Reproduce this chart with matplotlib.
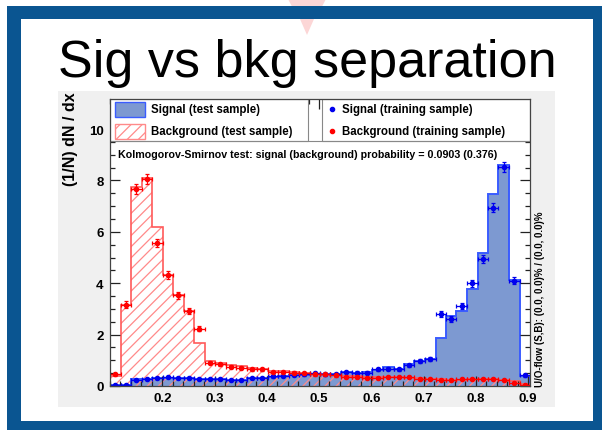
import numpy as np
import matplotlib
matplotlib.use("Agg")
import matplotlib.pyplot as plt
from matplotlib.patches import Rectangle, Polygon
from matplotlib.ticker import MultipleLocator

plt.rcParams['font.family'] = ['Liberation Sans', 'DejaVu Sans']
plt.rcParams['hatch.linewidth'] = 0.9

W, H = 602, 431

# MVA response binning
x_lo, x_hi, n_bins = 0.1, 0.9038, 40
edges = np.linspace(x_lo, x_hi, n_bins + 1)

# normalised response, test samples (histograms)
sig_test = [0.02, 0.05, 0.27, 0.28, 0.30, 0.33, 0.31, 0.30, 0.29, 0.29,
            0.28, 0.25, 0.22, 0.30, 0.33, 0.36, 0.39, 0.41, 0.44, 0.48,
            0.47, 0.48, 0.54, 0.51, 0.54, 0.64, 0.73, 0.65, 0.87, 0.97,
            1.06, 1.87, 2.74, 2.90, 3.76, 5.17, 7.48, 8.60, 4.12, 0.40]
bkg_test = [0.40, 3.17, 7.76, 8.11, 6.20, 4.32, 3.53, 2.92, 1.66, 0.97,
            0.90, 0.82, 0.77, 0.70, 0.68, 0.60, 0.57, 0.54, 0.51, 0.48,
            0.44, 0.41, 0.39, 0.37, 0.36, 0.35, 0.34, 0.34, 0.33, 0.30,
            0.28, 0.26, 0.24, 0.25, 0.27, 0.27, 0.26, 0.24, 0.18, 0.09]

# normalised response, training samples (points)
sig_train = [0.03, 0.05, 0.22, 0.28, 0.31, 0.35, 0.32, 0.30, 0.28, 0.29,
             0.29, 0.24, 0.22, 0.33, 0.33, 0.37, 0.39, 0.42, 0.45, 0.49,
             0.45, 0.47, 0.54, 0.52, 0.52, 0.65, 0.67, 0.65, 0.80, 0.97,
             1.04, 2.79, 2.62, 3.12, 4.00, 4.93, 6.94, 8.53, 4.10, 0.41]
bkg_train = [0.45, 3.17, 7.68, 8.04, 5.58, 4.32, 3.53, 2.92, 2.23, 0.91,
             0.84, 0.75, 0.71, 0.65, 0.65, 0.54, 0.55, 0.52, 0.49, 0.45,
             0.45, 0.41, 0.36, 0.36, 0.32, 0.32, 0.34, 0.34, 0.34, 0.28,
             0.26, 0.25, 0.23, 0.26, 0.28, 0.28, 0.26, 0.23, 0.13, 0.03]

n_train = 10800  # events per class, sets the Poisson errors
ks_sig, ks_bkg = 0.0903, 0.376

x_ticks = [0.2, 0.3, 0.4, 0.5, 0.6, 0.7, 0.8, 0.9]
y_ticks = [0, 2, 4, 6, 8, 10]

centers = 0.5 * (edges[:-1] + edges[1:])
dx = edges[1] - edges[0]


def poisson_err(dens):
    counts = np.asarray(dens) * n_train * dx
    return np.sqrt(counts) / (n_train * dx)


fig = plt.figure(figsize=(W / 100, H / 100), dpi=100)

# slide background, pixel coordinates
bg = fig.add_axes([0, 0, 1, 1])
bg.set_xlim(0, W)
bg.set_ylim(H, 0)
bg.axis('off')
bg.add_patch(Polygon([[288, 0], [326, 0], [307, 36]], closed=True,
                     facecolor='#fcd6d6', edgecolor='none', zorder=1))
bg.add_patch(Rectangle((7, 7), W, H, facecolor='#0a5591', edgecolor='none', zorder=2))
bg.add_patch(Rectangle((21, 20), 572, 402, facecolor='white', edgecolor='none', zorder=3))
bg.add_patch(Polygon([[300, 20], [314, 20], [307, 36]], closed=True,
                     facecolor='#fcd6d6', edgecolor='none', zorder=4))
bg.add_patch(Rectangle((58, 92), 497, 316, facecolor='#f0f0f0', edgecolor='none', zorder=4))
bg.text(307, 77, 'Sig vs bkg separation', fontsize=37.5, ha='center',
        va='baseline', color='black', zorder=5)
bg.text(70, 92, '(1/N) dN / dx', rotation=90, ha='center', va='top',
        fontsize=11.5, fontweight='bold', zorder=5)
bg.text(540, 387, 'U/O-flow (S,B): (0.0, 0.0)% / (0.0, 0.0)%', rotation=90,
        ha='center', va='bottom', fontsize=7.0, fontweight='bold', zorder=5)

ax = fig.add_axes([110 / W, 1 - 387 / H, 420 / W, 287 / H])
ax.set_xlim(x_lo, x_hi)
ax.set_ylim(0, 11.17)


def px(xp, yp):
    # pixel position -> axes fraction
    return (xp - 110) / 420, (387 - yp) / 287


# signal test histogram
ax.stairs(sig_test, edges, fill=True, facecolor='#7d99d1', edgecolor='none', zorder=1)
ax.stairs(sig_test, edges, color='#3a5cff', lw=1.4, zorder=1.2)

# background test histogram, hatched
ax.stairs(bkg_test, edges, fill=True, facecolor='none', edgecolor='#ff8a8a',
          hatch='///', lw=0, zorder=1.1)
ax.stairs(bkg_test, edges, color='#ff5a5a', lw=1.2, zorder=1.3)

# training samples
ax.errorbar(centers, sig_train, yerr=poisson_err(sig_train), xerr=dx / 2,
            fmt='o', ms=3.0, color='#0000ee', elinewidth=0.9, capsize=1.5,
            capthick=0.9, zorder=2)
ax.errorbar(centers, bkg_train, yerr=poisson_err(bkg_train), xerr=dx / 2,
            fmt='o', ms=3.0, color='#ff0000', elinewidth=0.9, capsize=1.5,
            capthick=0.9, zorder=2)

# legend boxes
tr = ax.transAxes
x0, y0 = px(110, 142)
x1, y1 = px(308, 100)
ax.add_patch(Rectangle((x0, y0), x1 - x0, y1 - y0, transform=tr,
                       facecolor='white', edgecolor='#888888', lw=0.8, zorder=2.2))
x0, y0 = px(322, 142)
x1, y1 = px(530, 100)
ax.add_patch(Rectangle((x0, y0), x1 - x0, y1 - y0, transform=tr,
                       facecolor='white', edgecolor='#888888', lw=0.8, zorder=2.2))
a, b = px(110, 142)
c, _ = px(530, 142)
ax.plot([a, c], [b, b], transform=tr, color='#888888', lw=0.8, zorder=2.3)

sx0, sy0 = px(115, 118)
sx1, sy1 = px(145, 103)
ax.add_patch(Rectangle((sx0, sy0), sx1 - sx0, sy1 - sy0, transform=tr,
                       facecolor='#7d99d1', edgecolor='#3a5cff', lw=1.0, zorder=2.4))
sx0, sy0 = px(115, 140)
sx1, sy1 = px(145, 125)
ax.add_patch(Rectangle((sx0, sy0), sx1 - sx0, sy1 - sy0, transform=tr,
                       facecolor='white', edgecolor='#ff8a8a', hatch='///', lw=1.0,
                       zorder=2.4))

leg_font = dict(fontsize=8.3, fontweight='bold', va='center', ha='left',
                transform=tr, zorder=2.5)
ax.text(*px(151, 110.5), 'Signal (test sample)', **leg_font)
ax.text(*px(151, 132), 'Background (test sample)', **leg_font)
ax.plot(*px(332, 110), 'o', ms=3.0, color='#0000ee', transform=tr, zorder=2.5)
ax.plot(*px(332, 132), 'o', ms=3.0, color='#ff0000', transform=tr, zorder=2.5)
ax.text(*px(342, 110.5), 'Signal (training sample)', **leg_font)
ax.text(*px(342, 132), 'Background (training sample)', **leg_font)

ax.text(*px(118, 155),
        f'Kolmogorov-Smirnov test: signal (background) probability = {ks_sig} ({ks_bkg})',
        fontsize=7.7, fontweight='bold', va='center', ha='left', transform=tr,
        zorder=2.5)

# axes styling
ax.set_xticks(x_ticks)
ax.set_xticklabels([f'{v:.1f}' for v in x_ticks])
ax.set_yticks(y_ticks)
ax.xaxis.set_minor_locator(MultipleLocator(0.02))
ax.yaxis.set_minor_locator(MultipleLocator(0.5))
ax.tick_params(which='both', direction='in', top=True, right=True,
               color='#222222', width=0.9)
ax.tick_params(which='major', length=7, labelsize=9.5, pad=4.5)
ax.tick_params(which='minor', length=3.5)
for lab in ax.get_xticklabels() + ax.get_yticklabels():
    lab.set_fontweight('bold')
for sp in ax.spines.values():
    sp.set_color('#444444')
    sp.set_linewidth(0.9)

fig.savefig('out.png', dpi=100)
